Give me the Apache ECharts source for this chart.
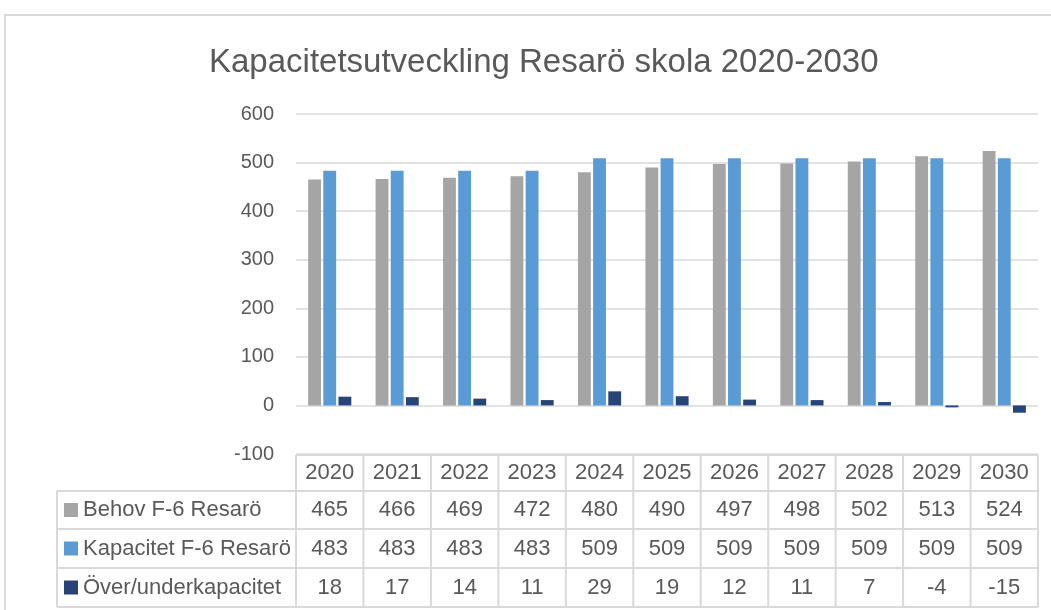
<!DOCTYPE html>
<html>
<head>
<meta charset="utf-8">
<script src="https://cdn.jsdelivr.net/npm/echarts@6/dist/echarts.min.js"></script>
<style>
  html, body { margin: 0; padding: 0; background: #fff; }
  #chart { width: 1051px; height: 610px; }
</style>
</head>
<body>
<div id="chart"></div>
<script>
var years = ['2020', '2021', '2022', '2023', '2024', '2025', '2026', '2027', '2028', '2029', '2030'];
var behov = [465, 466, 469, 472, 480, 490, 497, 498, 502, 513, 524];
var kapacitet = [483, 483, 483, 483, 509, 509, 509, 509, 509, 509, 509];
var overUnder = [18, 17, 14, 11, 29, 19, 12, 11, 7, -4, -15];
var seriesNames = ['Behov F-6 Resarö', 'Kapacitet F-6 Resarö', 'Över/underkapacitet'];
var colors = ['#A5A5A5', '#5B9BD5', '#264478'];

var FONT = 'Liberation Sans';
var TXT = '#595959';
var LINE = '#D9D9D9';

var gridLeft = 296, gridRight = 13, gridTop = 114, gridBottom = 156;
var rowH = [36, 38, 39, 39];
var legendColLeft = 57;

var chart = echarts.init(document.getElementById('chart'));

var option = {
    animation: false,
    title: {
        text: 'Kapacitetsutveckling Resarö skola 2020-2030',
        left: 204,
        top: 41,
        textStyle: { fontFamily: FONT, fontWeight: 'normal', fontSize: 33, color: TXT }
    },
    grid: { left: gridLeft, right: gridRight, top: gridTop, bottom: gridBottom },
    xAxis: {
        type: 'category',
        data: years,
        axisLine: { show: false },
        axisTick: { show: false },
        axisLabel: { show: false },
        splitLine: { show: false }
    },
    yAxis: {
        type: 'value',
        min: -100,
        max: 600,
        interval: 100,
        axisLine: { show: false },
        axisTick: { show: false },
        axisLabel: { fontFamily: FONT, fontSize: 20, color: TXT, margin: 22 },
        splitLine: { lineStyle: { color: LINE, width: 1.5 } }
    },
    series: [
        { name: seriesNames[0], type: 'bar', data: behov, itemStyle: { color: colors[0] }, barGap: '18%', barCategoryGap: '36%' },
        { name: seriesNames[1], type: 'bar', data: kapacitet, itemStyle: { color: colors[1] } },
        { name: seriesNames[2], type: 'bar', data: overUnder, itemStyle: { color: colors[2] } }
    ]
};
chart.setOption(option);

// data table under the plot
function buildTable() {
    var W = chart.getWidth(), H = chart.getHeight();
    var x0 = gridLeft, x1 = W - gridRight;
    var colW = (x1 - x0) / years.length;
    var yTop = H - gridBottom + 1;
    var rows = [null, behov, kapacitet, overUnder];
    var g = [];
    var lineStyle = { stroke: LINE, lineWidth: 2 };
    var font = '22px "' + FONT + '"';

    // outer chart frame
    g.push({ type: 'rect', shape: { x: 5, y: 15, width: W, height: H }, style: { fill: 'none', stroke: LINE, lineWidth: 2 }, silent: true });

    var ys = [yTop];
    for (var r = 0; r < rowH.length; r++) ys.push(ys[r] + rowH[r]);

    // horizontal lines
    for (var r = 0; r < ys.length; r++) {
        var left = r === 0 ? x0 : legendColLeft;
        g.push({ type: 'line', shape: { x1: left, y1: ys[r], x2: x1, y2: ys[r] }, style: lineStyle, silent: true });
    }
    // vertical lines
    g.push({ type: 'line', shape: { x1: legendColLeft, y1: ys[1], x2: legendColLeft, y2: ys[4] }, style: lineStyle, silent: true });
    for (var c = 0; c <= years.length; c++) {
        var x = x0 + c * colW;
        g.push({ type: 'line', shape: { x1: x, y1: ys[0], x2: x, y2: ys[4] }, style: lineStyle, silent: true });
    }

    for (var r = 0; r < rows.length; r++) {
        var cy = (ys[r] + ys[r + 1]) / 2;
        for (var c = 0; c < years.length; c++) {
            var cx = chart.convertToPixel({ xAxisIndex: 0 }, years[c]);
            var txt = r === 0 ? years[c] : String(rows[r][c]);
            g.push({ type: 'text', x: cx, y: cy, style: { text: txt, fill: TXT, font: font, align: 'center', verticalAlign: 'middle' }, silent: true });
        }
        if (r > 0) {
            g.push({ type: 'rect', shape: { x: 64, y: cy - 7, width: 14, height: 14 }, style: { fill: colors[r - 1] }, silent: true });
            g.push({ type: 'text', x: 83, y: cy, style: { text: seriesNames[r - 1], fill: TXT, font: font, align: 'left', verticalAlign: 'middle' }, silent: true });
        }
    }
    chart.setOption({ graphic: g });
}
buildTable();
</script>
</body>
</html>
